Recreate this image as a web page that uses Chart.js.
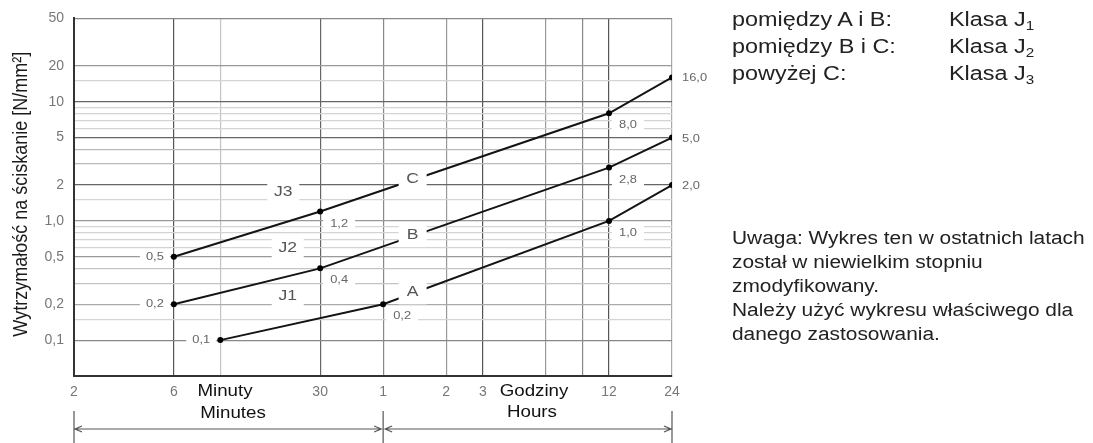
<!DOCTYPE html>
<html lang="pl">
<head>
<meta charset="utf-8">
<script src="https://cdn.jsdelivr.net/npm/chart.js@4.4.1/dist/chart.umd.min.js"></script>
<style>
  html, body { margin: 0; padding: 0; background: #fff; }
  #wrap { position: relative; width: 1093px; height: 443px; overflow: hidden;
          font-family: "Liberation Sans", Arial, sans-serif; color: #222; }
  #chart { position: absolute; left: 0; top: 0; }
  .txt { position: absolute; white-space: nowrap; transform-origin: 0 0; }
  .cls { font-size: 20px; line-height: 20px; transform: scaleX(1.17); }
  .cls span { font-size: 13px; position: relative; top: 4px; }
  .note { left: 732px; top: 226px; font-size: 18px; line-height: 24px; transform: scaleX(1.16); }
</style>
</head>
<body>
<div id="wrap">
  <canvas id="chart" width="1093" height="443"></canvas>
  <div class="txt cls" style="left:732px; top:9px">pomiędzy A i B:</div>
  <div class="txt cls" style="left:949px; top:9px">Klasa J<span>1</span></div>
  <div class="txt cls" style="left:732px; top:36px">pomiędzy B i C:</div>
  <div class="txt cls" style="left:949px; top:36px">Klasa J<span>2</span></div>
  <div class="txt cls" style="left:732px; top:63px">powyżej C:</div>
  <div class="txt cls" style="left:949px; top:63px">Klasa J<span>3</span></div>
  <div class="txt note">Uwaga: Wykres ten w ostatnich latach<br>został w niewielkim stopniu<br>zmodyfikowany.<br>Należy użyć wykresu właściwego dla<br>danego zastosowania.</div>
</div>
<script>
// time in minutes (12 h = 720, 24 h = 1440), strength in N/mm²
const timeA = [10, 60, 720, 1440];
const strengthA = [0.1, 0.2, 1.0, 2.0];
const timeB = [6, 30, 720, 1440];
const strengthB = [0.2, 0.4, 2.8, 5.0];
const timeC = [6, 30, 720, 1440];
const strengthC = [0.5, 1.2, 8.0, 16.0];
const curveNames = ['A', 'B', 'C'];

const xGrid = [2, 6, 10, 30, 60, 120, 180, 360, 540, 720, 1440];
const xTickLabels = ['2', '6', '', '30', '1', '2', '3', '', '', '12', '24'];
const yGrid = [0.05, 0.1, 0.15, 0.2, 0.3, 0.4, 0.5, 0.6, 0.7, 0.8, 0.9, 1, 1.5, 2, 3, 4, 5, 6, 7, 8, 9, 10, 15, 20, 50];
const yTickLabels = ['', '0,1', '', '0,2', '', '', '0,5', '', '', '', '', '1,0', '', '2', '', '', '5', '', '', '', '', '10', '', '20', '50'];

const bandNames = ['J1', 'J2', 'J3'];
const bandMinutes = [21, 21, 20];
const bandStrength = [0.236, 0.59, 1.75];
const curveNameMinutes = 83;

const FONT = '"Liberation Sans", Arial, sans-serif';
const stretch = 1.17;

const xShade = { 6: '#555', 10: '#c4c4c4', 30: '#666', 60: '#888', 120: '#999', 180: '#555', 360: '#999', 540: '#888', 720: '#555', 1440: '#aaa' };
const yShade = { 50: '#888', 20: '#999', 10: '#666', 5: '#666', 3: '#bbb', 4: '#bbb', 2: '#666', 1: '#999', 0.5: '#999', 0.2: '#aaa', 0.3: '#c4c4c4', 0.4: '#c4c4c4', 0.1: '#888' };

function pts(xs, ys) { return xs.map((x, i) => ({ x: x, y: ys[i] })); }

function onLine(xs, ys, t) {
  for (let i = 0; i < xs.length - 1; i++) {
    if (t >= xs[i] && t <= xs[i + 1]) {
      const f = (Math.log(t) - Math.log(xs[i])) / (Math.log(xs[i + 1]) - Math.log(xs[i]));
      return Math.exp(Math.log(ys[i]) + f * (Math.log(ys[i + 1]) - Math.log(ys[i])));
    }
  }
  return ys[ys.length - 1];
}

function putText(ctx, text, x, y, size, color, align) {
  ctx.save();
  ctx.font = size + 'px ' + FONT;
  ctx.fillStyle = color;
  ctx.textAlign = align || 'center';
  ctx.textBaseline = 'middle';
  ctx.translate(x, y);
  ctx.scale(stretch, 1);
  ctx.fillText(text, 0, 0);
  ctx.restore();
}

function whiteBox(ctx, x, y, w, h) {
  ctx.fillStyle = '#fff';
  ctx.fillRect(x - w / 2, y - h / 2, w, h);
}

const series = [[timeA, strengthA], [timeB, strengthB], [timeC, strengthC]];

const annotations = {
  id: 'annotations',
  afterDatasetsDraw(chart) {
    const ctx = chart.ctx;
    const xs = chart.scales.x, ys = chart.scales.y;
    const area = chart.chartArea;

    // value labels next to the points
    series.forEach(([t, v]) => {
      t.forEach((m, i) => {
        const px = xs.getPixelForValue(m), py = ys.getPixelForValue(v[i]);
        const txt = v[i].toFixed(1).replace('.', ',');
        if (i === 0) {
          whiteBox(ctx, px - 19, py, 30, 15);
          putText(ctx, txt, px - 19, py, 11, '#666');
        } else if (i === t.length - 1) {
          putText(ctx, txt, px + 10, py + 1, 11, '#666', 'left');
        } else {
          whiteBox(ctx, px + 19, py + 12, 32, 16);
          putText(ctx, txt, px + 19, py + 12, 11, '#666');
        }
      });
    });

    // curve names A, B, C sitting on the lines
    series.forEach(([t, v], k) => {
      const px = xs.getPixelForValue(curveNameMinutes);
      const py = ys.getPixelForValue(onLine(t, v, curveNameMinutes));
      whiteBox(ctx, px, py, 28, 22);
      putText(ctx, curveNames[k], px, py - 1, 15, '#555');
    });

    // band names J1..J3
    bandNames.forEach((name, k) => {
      const px = xs.getPixelForValue(bandMinutes[k]);
      const py = ys.getPixelForValue(bandStrength[k]);
      whiteBox(ctx, px, py, 32, 21);
      putText(ctx, name, px, py, 15, '#555');
    });

    // y axis title
    ctx.save();
    ctx.font = '18px ' + FONT;
    ctx.fillStyle = '#1a1a1a';
    ctx.textAlign = 'center';
    ctx.textBaseline = 'middle';
    ctx.translate(21, (area.top + area.bottom) / 2 - 3);
    ctx.scale(stretch, 1);
    ctx.rotate(-Math.PI / 2);
    ctx.fillText('Wytrzymałość na ściskanie [N/mm²]', 0, 0);
    ctx.restore();

    // time captions
    putText(ctx, 'Minuty', 225, 392, 16, '#111');
    putText(ctx, 'Minutes', 233, 414, 16, '#111');
    putText(ctx, 'Godziny', 534, 392, 16, '#111');
    putText(ctx, 'Hours', 532, 413, 16, '#111');

    // range arrows below the axis
    const x0 = xs.getPixelForValue(2), x1 = xs.getPixelForValue(60), x2 = xs.getPixelForValue(1440);
    const ay = 429;
    ctx.save();
    ctx.strokeStyle = '#555';
    ctx.lineWidth = 1.2;
    ctx.beginPath();
    [x0, x1, x2].forEach(x => { ctx.moveTo(x, 411); ctx.lineTo(x, 443); });
    ctx.moveTo(x0 + 1, ay); ctx.lineTo(x1 - 2, ay);
    ctx.moveTo(x1 + 2, ay); ctx.lineTo(x2 - 1, ay);
    // arrow heads
    const head = (x, dir) => { ctx.moveTo(x + dir * 7, ay - 3); ctx.lineTo(x, ay); ctx.lineTo(x + dir * 7, ay + 3); };
    head(x0 + 1, 1); head(x1 - 2, -1); head(x1 + 2, 1); head(x2 - 1, -1);
    ctx.stroke();
    ctx.restore();
  }
};

const lineStyle = {
  borderColor: '#141414',
  borderWidth: 2,
  pointRadius: 3,
  pointBackgroundColor: '#000',
  pointBorderWidth: 0,
  tension: 0,
  fill: false
};

new Chart(document.getElementById('chart'), {
  type: 'line',
  data: {
    datasets: [
      Object.assign({ label: 'A', data: pts(timeA, strengthA) }, lineStyle),
      Object.assign({ label: 'B', data: pts(timeB, strengthB) }, lineStyle),
      Object.assign({ label: 'C', data: pts(timeC, strengthC) }, lineStyle)
    ]
  },
  options: {
    responsive: false,
    animation: false,
    layout: { padding: { top: 18, right: 421, left: 0, bottom: 0 } },
    plugins: { legend: { display: false }, tooltip: { enabled: false } },
    scales: {
      x: {
        type: 'logarithmic',
        min: 2,
        max: 1440,
        afterBuildTicks: s => { s.ticks = xGrid.map(v => ({ value: v })); },
        afterFit: s => { s.height = 67; },
        ticks: {
          callback: (v, i) => xTickLabels[i],
          autoSkip: false,
          maxRotation: 0,
          padding: 8,
          color: '#777',
          font: { size: 14, family: FONT }
        },
        grid: {
          drawTicks: false,
          color: c => xShade[c.tick && c.tick.value] || '#ccc',
          lineWidth: 1.2
        },
        border: { color: '#333', width: 2 }
      },
      y: {
        type: 'logarithmic',
        min: 0.05,
        max: 50,
        afterBuildTicks: s => { s.ticks = yGrid.map(v => ({ value: v })); },
        afterFit: s => { s.width = 74; },
        ticks: {
          callback: (v, i) => yTickLabels[i],
          autoSkip: false,
          padding: 10,
          color: '#777',
          font: { size: 14, family: FONT }
        },
        grid: {
          drawTicks: false,
          color: c => yShade[c.tick && c.tick.value] || '#d4d4d4',
          lineWidth: 1.2
        },
        border: { color: '#333', width: 2 }
      }
    }
  },
  plugins: [annotations]
});
</script>
</body>
</html>
